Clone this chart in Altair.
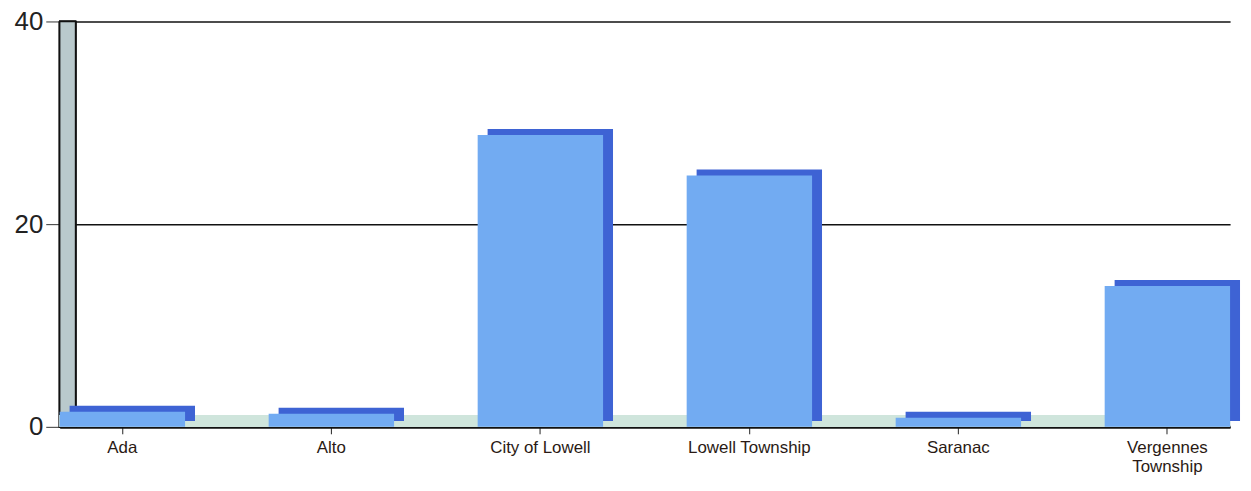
import altair as alt
import pandas as pd

categories = ["Ada", "Alto", "City of Lowell", "Lowell Township", "Saranac", "Vergennes Township"]
values = [1.5, 1.3, 28.8, 24.8, 0.9, 13.9]
y_ticks = [0, 20, 40]

df = pd.DataFrame({"place": categories, "value": values})

W, H = 1178, 408

x_enc = alt.X("place:N", sort=categories,
              scale=alt.Scale(paddingInner=0.4, paddingOuter=0),
              axis=alt.Axis(title=None, labelAngle=0, labelFontSize=17, labelColor="#2a1a14",
                            labelFont="Liberation Sans", labelPadding=6, tickColor="#222",
                            tickSize=7, domainColor="#111", domainWidth=3,
                            labelExpr="datum.value == 'Vergennes Township' ? ['Vergennes', 'Township'] : datum.value"))
y_enc = alt.Y("value:Q", scale=alt.Scale(domain=[0, 40]),
              axis=alt.Axis(title=None, values=y_ticks, labelFontSize=26, labelColor="#222",
                            labelFont="Liberation Sans", tickSize=14, tickColor="#333",
                            domainColor="#111", domainWidth=3, grid=True, gridColor="#111",
                            gridWidth=1.5, labelPadding=3))

base = alt.Chart(df)

wall = base.mark_rect(color="#b9c9cc", stroke="#111", strokeWidth=1.5).encode(
    x=alt.value(0), x2=alt.value(16), y=alt.value(0), y2=alt.value(H)
)
floor = base.mark_rect(color="#cfe5dc").encode(
    x=alt.value(0), x2=alt.value(W), y=alt.value(H - 12), y2=alt.value(H)
)
side = base.mark_bar(color="#3e63d4", xOffset=10, yOffset=-6).encode(x=x_enc, y=y_enc)
front = base.mark_bar(color="#72abf2").encode(x=x_enc, y=y_enc)

chart = alt.layer(wall, floor, side, front).properties(
    width=W, height=H,
    autosize=alt.AutoSizeParams(type="none"),
    padding={"left": 52, "top": 12, "right": 13, "bottom": 60},
    background="white"
).configure_view(stroke=None)

chart.save("out.html", embed_options={"renderer": "svg", "actions": False})
